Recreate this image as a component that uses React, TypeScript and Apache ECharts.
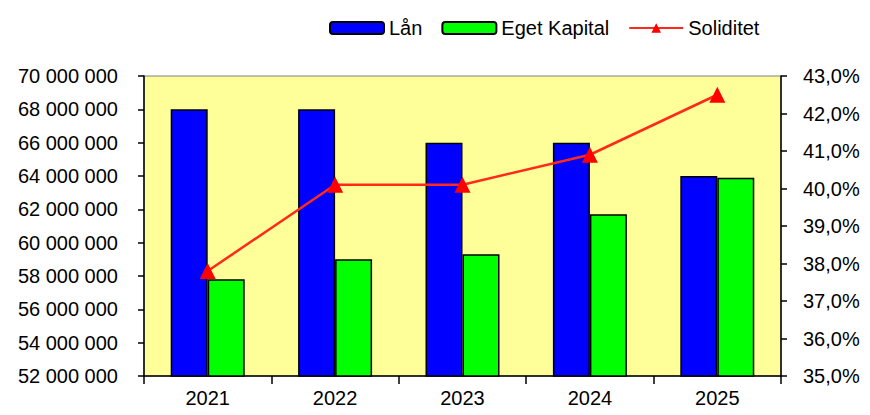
import React, { useEffect, useRef } from "react";
import * as echarts from "echarts";

const years = ["2021", "2022", "2023", "2024", "2025"];
const lan = [68000000, 68000000, 66000000, 66000000, 64000000];
const egetKapital = [57800000, 59000000, 59300000, 61700000, 63900000];
const soliditet = [37.8, 40.1, 40.1, 40.9, 42.5];

const fmtMoney = (v: number) =>
  String(Math.round(v)).replace(/\B(?=(\d{3})+(?!\d))/g, " ");
const fmtPct = (v: number) => v.toFixed(1).replace(".", ",") + "%";

export default function App() {
  const ref = useRef<HTMLDivElement>(null);
  useEffect(() => {
    if (!ref.current) return;
    const chart = echarts.init(ref.current, undefined, { renderer: "svg" });
    const font = "'Liberation Sans', Arial, sans-serif";
    chart.setOption({
      animation: false,
      textStyle: { fontFamily: font },
      legend: {
        left: 324,
        top: 13,
        itemWidth: 54,
        itemHeight: 12,
        itemGap: 19,
        textStyle: { fontSize: 20, color: "#000", fontFamily: font },
        data: ["Lån", "Eget Kapital", "Soliditet"],
      },
      grid: {
        left: 144,
        right: 89,
        top: 76,
        bottom: 39,
        show: true,
        backgroundColor: "#FFFF99",
        borderColor: "#808080",
        borderWidth: 1,
      },
      xAxis: {
        type: "category",
        data: years,
        axisLine: { lineStyle: { color: "#000", width: 1.5 } },
        axisTick: { show: true, length: 8, lineStyle: { color: "#000", width: 1.5 } },
        axisLabel: { color: "#000", fontSize: 20, margin: 12, fontFamily: font },
      },
      yAxis: [
        {
          type: "value",
          min: 52000000,
          max: 70000000,
          interval: 2000000,
          axisLine: { show: true, lineStyle: { color: "#000", width: 1.5 } },
          axisTick: { show: true, length: 6, lineStyle: { color: "#000", width: 1.5 } },
          splitLine: { show: false },
          axisLabel: {
            color: "#000",
            fontSize: 20,
            margin: 26,
            fontFamily: font,
            formatter: fmtMoney,
          },
        },
        {
          type: "value",
          min: 35,
          max: 43,
          interval: 1,
          position: "right",
          axisLine: { show: true, lineStyle: { color: "#000", width: 1.5 } },
          axisTick: { show: true, length: 6, lineStyle: { color: "#000", width: 1.5 } },
          splitLine: { show: false },
          axisLabel: {
            color: "#000",
            fontSize: 20,
            margin: 22,
            fontFamily: font,
            formatter: fmtPct,
          },
        },
      ],
      series: [
        {
          name: "Lån",
          type: "bar",
          data: lan,
          barWidth: 37,
          barGap: "0%",
          itemStyle: { color: "#0000FF", borderColor: "#000", borderWidth: 1.5 },
        },
        {
          name: "Eget Kapital",
          type: "bar",
          data: egetKapital,
          barWidth: 37,
          barGap: "0%",
          itemStyle: { color: "#00FF00", borderColor: "#000", borderWidth: 1.5 },
        },
        {
          name: "Soliditet",
          type: "line",
          yAxisIndex: 1,
          data: soliditet,
          symbol: "triangle",
          symbolSize: 16,
          lineStyle: { color: "#FF2A1A", width: 2.5 },
          itemStyle: { color: "#FF0000" },
        },
      ],
    });
    return () => chart.dispose();
  }, []);
  return <div ref={ref} style={{ width: 870, height: 415, margin: -8 }} />;
}
